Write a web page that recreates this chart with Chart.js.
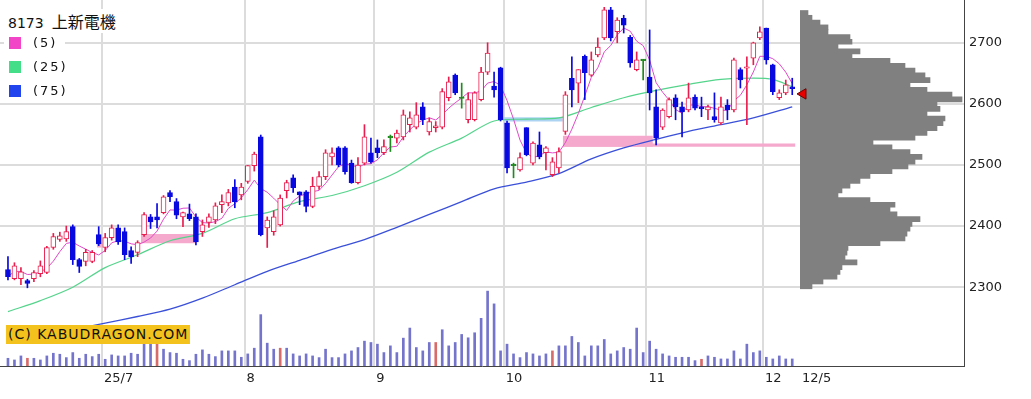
<!DOCTYPE html>
<html>
<head>
<meta charset="utf-8">
<script src="https://cdn.jsdelivr.net/npm/chart.js@4.4.1/dist/chart.umd.min.js"></script>
<style>
    html, body { margin: 0; padding: 0; background: #fff; }
    #wrap { position: relative; width: 1031px; height: 399px; overflow: hidden; background: #fff; }
    #wrap canvas { position: absolute; left: 0; top: 0; }
    .title { position: absolute; left: 8px; top: 9px; color: #111; background: #fff; white-space: nowrap; }
    .title .code { font: 14px "DejaVu Sans", sans-serif; margin-right: 8px; }
    .title .name { font: 16px "Noto Sans CJK JP", sans-serif; }
    .leg { position: absolute; left: 4px; height: 16px; padding-right: 8px; background: #fff;
           font: 13px "DejaVu Sans", sans-serif; letter-spacing: 2px; line-height: 16px; color: #111; }
    .leg i { display: inline-block; width: 12px; height: 12px; margin: 2px 12px 0 5px; vertical-align: top; }
    .logo { position: absolute; left: 6px; top: 325px; width: 184px; height: 19px; background: #f4c21c;
            font: 14px "DejaVu Sans", sans-serif; letter-spacing: 1px; line-height: 19px; color: #111;
            padding-left: 2px; box-sizing: border-box; white-space: nowrap; }
</style>
</head>
<body>
<div id="wrap">
    <canvas id="mainChart" width="1031" height="399"></canvas>
    <canvas id="profileChart" width="1031" height="399"></canvas>
    <div class="title"><span class="code">8173</span><span class="name">上新電機</span></div>
    <div class="leg" style="top:35px"><i style="background:#f244c6"></i>(5)</div>
    <div class="leg" style="top:59px"><i style="background:#44dd88"></i>(25)</div>
    <div class="leg" style="top:83px"><i style="background:#2244ee"></i>(75)</div>
    <div class="logo">(C) KABUDRAGON.COM</div>
</div>
<script>
// daily candles, index 0 = first session shown, 121 = 12/5
const opens = [
    2329, 2314, 2314, 2311, 2314, 2322, 2324, 2365, 2378, 2379,
    2399, 2345, 2342, 2342, 2386, 2365, 2381, 2397, 2391, 2360,
    2357, 2386, 2415, 2415, 2422, 2455, 2440, 2415, 2420, 2415,
    2391, 2406, 2410, 2435, 2438, 2464, 2451, 2473, 2499, 2546,
    2397, 2391, 2402, 2458, 2479, 2456, 2456, 2432, 2465, 2481,
    2513, 2528, 2528, 2503, 2471, 2503, 2520, 2528, 2520, 2546,
    2544, 2546, 2566, 2562, 2595, 2554, 2561, 2562, 2610, 2647,
    2610, 2574, 2574, 2607, 2652, 2629, 2659, 2569, 2500, 2492,
    2561, 2503, 2533, 2520, 2484, 2495, 2555, 2642, 2634, 2678,
    2647, 2680, 2708, 2754, 2718, 2740, 2709, 2656, 2672, 2644,
    2595, 2562, 2579, 2610, 2595, 2590, 2611, 2595, 2590, 2579,
    2569, 2598, 2590, 2656, 2659, 2675, 2708, 2724, 2664, 2610,
    2618, 2628
];
const highs = [
    2350, 2340, 2332, 2313, 2327, 2343, 2367, 2388, 2390, 2400,
    2402, 2347, 2362, 2360, 2399, 2388, 2402, 2402, 2397, 2366,
    2376, 2422, 2419, 2437, 2450, 2458, 2445, 2423, 2436, 2420,
    2410, 2420, 2438, 2451, 2460, 2476, 2470, 2499, 2521, 2549,
    2415, 2425, 2451, 2475, 2484, 2456, 2458, 2480, 2489, 2525,
    2528, 2530, 2530, 2508, 2512, 2566, 2544, 2541, 2541, 2549,
    2557, 2590, 2587, 2602, 2602, 2577, 2571, 2625, 2644, 2649,
    2634, 2618, 2620, 2660, 2700, 2652, 2660, 2572, 2503, 2520,
    2561, 2538, 2554, 2530, 2512, 2528, 2620, 2677, 2656, 2680,
    2685, 2708, 2758, 2758, 2741, 2745, 2712, 2685, 2673, 2721,
    2623, 2592, 2610, 2615, 2603, 2634, 2615, 2611, 2598, 2618,
    2611, 2607, 2675, 2659, 2677, 2701, 2726, 2724, 2665, 2623,
    2639, 2642
];
const lows = [
    2312, 2312, 2304, 2299, 2309, 2317, 2322, 2362, 2375, 2375,
    2337, 2324, 2335, 2340, 2368, 2358, 2377, 2370, 2345, 2339,
    2350, 2383, 2396, 2397, 2420, 2440, 2412, 2399, 2409, 2369,
    2383, 2398, 2404, 2422, 2433, 2430, 2443, 2470, 2490, 2384,
    2365, 2385, 2400, 2446, 2455, 2435, 2423, 2430, 2460, 2476,
    2500, 2497, 2485, 2470, 2469, 2500, 2503, 2512, 2517, 2522,
    2536, 2541, 2554, 2559, 2566, 2549, 2554, 2559, 2605, 2615,
    2593, 2569, 2572, 2605, 2648, 2611, 2572, 2487, 2479, 2490,
    2515, 2500, 2510, 2492, 2481, 2487, 2550, 2595, 2602, 2607,
    2645, 2677, 2705, 2703, 2700, 2716, 2660, 2654, 2639, 2590,
    2533, 2558, 2577, 2574, 2546, 2587, 2590, 2579, 2574, 2570,
    2566, 2574, 2587, 2626, 2566, 2664, 2705, 2665, 2615, 2607,
    2615, 2615
];
const closes = [
    2317, 2335, 2325, 2306, 2324, 2335, 2365, 2383, 2384, 2391,
    2345, 2334, 2357, 2357, 2371, 2381, 2397, 2374, 2353, 2350,
    2373, 2419, 2407, 2410, 2448, 2448, 2418, 2422, 2412, 2374,
    2402, 2415, 2433, 2440, 2455, 2440, 2464, 2499, 2518, 2386,
    2410, 2415, 2446, 2471, 2463, 2451, 2432, 2465, 2481, 2520,
    2520, 2500, 2489, 2471, 2500, 2546, 2505, 2520, 2530, 2546,
    2552, 2582, 2577, 2582, 2574, 2571, 2564, 2620, 2636, 2618,
    2610, 2607, 2618, 2652, 2683, 2623, 2574, 2495, 2500, 2512,
    2517, 2536, 2513, 2528, 2505, 2522, 2615, 2623, 2656, 2651,
    2672, 2693, 2754, 2708, 2737, 2729, 2667, 2672, 2672, 2618,
    2544, 2590, 2607, 2595, 2587, 2610, 2593, 2592, 2595, 2574,
    2595, 2590, 2672, 2639, 2660, 2700, 2718, 2672, 2620, 2618,
    2631, 2625
];
const volumes = [
    23, 18, 30, 23, 23, 18, 30, 38, 35, 25,
    40, 23, 35, 28, 35, 20, 33, 30, 30, 38,
    35, 70, 65, 68, 50, 40, 38, 20, 16, 35,
    48, 35, 28, 45, 45, 45, 26, 36, 53, 153,
    68, 50, 53, 53, 36, 30, 36, 30, 25, 50,
    25, 25, 36, 45, 55, 74, 70, 65, 40, 60,
    40, 83, 113, 55, 45, 70, 70, 108, 60, 70,
    94, 84, 99, 142, 223, 185, 45, 65, 36, 25,
    40, 36, 30, 36, 45, 60, 60, 88, 70, 30,
    60, 60, 79, 36, 45, 55, 50, 113, 40, 74,
    50, 36, 30, 26, 26, 26, 16, 20, 30, 26,
    21, 21, 45, 21, 65, 40, 45, 26, 21, 30,
    21, 21
];
const redVolumeDays = [3, 23, 42, 66, 84, 107];

// moving averages
const ma25Idx = [0, 5, 10, 15, 20, 25, 30, 35, 40, 45, 50, 55, 60, 65, 70, 75, 80, 85, 90, 95, 100, 105, 110, 115, 118, 121];
const ma25Val = [2260, 2278, 2300, 2332, 2353, 2376, 2388, 2412, 2422, 2440, 2450, 2466, 2488, 2521, 2544, 2572, 2575, 2577, 2594, 2610, 2622, 2632, 2640, 2642, 2640, 2628];
const ma75Idx = [0, 5, 10, 15, 20, 25, 30, 35, 40, 45, 50, 55, 60, 65, 70, 75, 80, 85, 90, 95, 100, 105, 110, 115, 121];
const ma75Val = [2210, 2220, 2231, 2241, 2252, 2264, 2282, 2304, 2326, 2344, 2362, 2378, 2398, 2419, 2440, 2461, 2472, 2486, 2510, 2528, 2542, 2555, 2566, 2577, 2595];

// highlighted price zones: [fromIdx, toIdx, low, high]
const zonesPink = [[13.7, 14.5, 2365, 2373], [20.5, 29, 2372, 2387], [85.6, 99.5, 2530, 2548], [85.6, 121.5, 2530, 2535]];
const zonesBlue = [[76.4, 85.6, 2571, 2578]];

// volume by price (right side)
const profPrice = [2760, 2752, 2744, 2736, 2728, 2720, 2712, 2704, 2696, 2688,
    2680, 2672, 2664, 2656, 2648, 2640, 2632, 2624, 2616, 2608,
    2600, 2592, 2584, 2576, 2568, 2560, 2552, 2544, 2536, 2528,
    2520, 2512, 2504, 2496, 2488, 2480, 2472, 2464, 2456, 2448,
    2440, 2432, 2424, 2416, 2408, 2400, 2392, 2384, 2376, 2368,
    2360, 2352, 2344, 2336, 2328, 2320, 2312, 2304];
const profVol = [8, 12, 20, 28, 28, 50, 52, 38, 60, 52,
    90, 105, 115, 125, 130, 110, 127, 152, 162, 137,
    140, 127, 145, 143, 137, 127, 115, 73, 92, 110,
    122, 115, 108, 92, 70, 60, 50, 42, 38, 70,
    95, 90, 97, 120, 112, 110, 107, 105, 80, 48,
    47, 45, 57, 42, 40, 37, 23, 12];

const tickPos = [14.5, 36.5, 56.5, 76.5, 98.5, 116.5, 122.2];
const tickLabels = ['25/7', '8', '9', '10', '11', '12', '12/5'];
const priceTicks = [2300, 2400, 2500, 2600, 2700];

const priceMin = 2171, priceMax = 2770;
const gridColor = '#dcdcdc';
const axisFont = { family: 'DejaVu Sans', size: 13 };

const days = closes.map((c, i) => i);
const candleColor = days.map(i => {
    if (opens[i] === closes[i]) return '#1f8a1f';
    return closes[i] > opens[i] ? '#e81e4e' : '#0808e0';
});
const bodyFill = days.map(i => closes[i] > opens[i] ? '#ffffff' : candleColor[i]);
const bodies = days.map(i => {
    let lo = Math.min(opens[i], closes[i]);
    let hi = Math.max(opens[i], closes[i]);
    if (hi - lo < 2.5) {
        const m = (hi + lo) / 2;
        lo = m - 1.25;
        hi = m + 1.25;
    }
    return { x: i, y: [lo, hi] };
});
const wicks = days.map(i => ({ x: i, y: [lows[i], highs[i]] }));
const ma5 = days.map(i => {
    const s = closes.slice(Math.max(0, i - 4), i + 1);
    return { x: i, y: s.reduce((a, b) => a + b, 0) / s.length };
});

function zoneDataset(z, color) {
    return {
        type: 'line',
        data: [{ x: z[0], y: z[3] }, { x: z[1], y: z[3] }],
        borderWidth: 0,
        pointRadius: 0,
        backgroundColor: color,
        fill: { value: z[2] },
        order: 10
    };
}

// the plot area has to fill the canvas edge to edge, so drop the label overhang padding
function noPadding(s) {
    s.paddingTop = 0;
    s.paddingBottom = 0;
    s.paddingLeft = 0;
    s.paddingRight = 0;
}

new Chart(document.getElementById('mainChart'), {
    type: 'bar',
    data: {
        datasets: [
            ...zonesPink.map(z => zoneDataset(z, '#f5aacd')),
            ...zonesBlue.map(z => zoneDataset(z, '#acd4f2')),
            {
                type: 'bar',
                data: volumes.map((v, i) => ({ x: i, y: v })),
                yAxisID: 'v',
                backgroundColor: days.map(i => redVolumeDays.includes(i) ? '#d86a6a' : '#7474cc'),
                barThickness: 2,
                grouped: false,
                order: 9
            },
            {
                type: 'line',
                data: ma75Idx.map((x, i) => ({ x: x, y: ma75Val[i] })),
                borderColor: '#3a50d8',
                borderWidth: 1.3,
                pointRadius: 0,
                tension: 0.3,
                order: 8
            },
            {
                type: 'line',
                data: ma25Idx.map((x, i) => ({ x: x, y: ma25Val[i] })),
                borderColor: '#55d48c',
                borderWidth: 1.2,
                pointRadius: 0,
                tension: 0.3,
                order: 7
            },
            {
                type: 'line',
                data: ma5,
                borderColor: '#e04ac8',
                borderWidth: 1,
                pointRadius: 0,
                order: 6
            },
            {
                type: 'bar',
                data: wicks,
                backgroundColor: candleColor,
                barThickness: 1,
                grouped: false,
                order: 2
            },
            {
                type: 'bar',
                data: bodies,
                backgroundColor: bodyFill,
                borderColor: candleColor,
                borderWidth: 1,
                borderSkipped: false,
                barThickness: 5,
                grouped: false,
                order: 1
            }
        ]
    },
    options: {
        responsive: false,
        animation: false,
        layout: { padding: 0 },
        plugins: { legend: { display: false }, tooltip: { enabled: false } },
        scales: {
            x: {
                type: 'linear',
                min: -1.23,
                max: 147.5,
                offset: false,
                afterBuildTicks: s => { s.ticks = tickPos.map(v => ({ value: v })); },
                afterFit: s => { s.height = 33; noPadding(s); },
                ticks: {
                    autoSkip: false,
                    maxRotation: 0,
                    align: 'start',
                    labelOffset: 2,
                    padding: 5,
                    color: '#222',
                    font: axisFont,
                    callback: (v, i) => tickLabels[i]
                },
                grid: {
                    offset: false,
                    drawTicks: false,
                    lineWidth: 2,
                    color: ctx => (ctx.tick && ctx.tick.value > 120) ? 'rgba(0,0,0,0)' : gridColor
                },
                border: { display: true, color: '#444', width: 1 }
            },
            y: {
                type: 'linear',
                position: 'right',
                min: priceMin,
                max: priceMax,
                afterBuildTicks: s => { s.ticks = priceTicks.map(v => ({ value: v })); },
                afterFit: s => { s.width = 67; noPadding(s); },
                ticks: { color: '#222', font: axisFont, padding: 5, callback: v => String(v) },
                grid: { drawTicks: false, lineWidth: 2, color: gridColor },
                border: { display: true, color: '#444', width: 1 }
            },
            v: {
                type: 'linear',
                axis: 'y',
                position: 'left',
                display: false,
                min: 0,
                max: 1090
            }
        }
    }
});

new Chart(document.getElementById('profileChart'), {
    type: 'bar',
    data: {
        datasets: [
            {
                indexAxis: 'y',
                data: profPrice.map((p, i) => ({ x: profVol[i], y: p })),
                backgroundColor: '#808080',
                borderWidth: 0,
                barThickness: 5,
                order: 2
            },
            {
                // last close marker, drawn over the profile
                type: 'scatter',
                data: [{ x: 3, y: closes[closes.length - 1] }],
                pointStyle: 'triangle',
                rotation: -90,
                pointRadius: 6,
                backgroundColor: '#e80000',
                borderColor: '#700000',
                borderWidth: 1,
                clip: false,
                order: 1
            }
        ]
    },
    options: {
        indexAxis: 'y',
        responsive: false,
        animation: false,
        layout: { padding: { left: 800, right: 67, top: 0, bottom: 33 } },
        plugins: { legend: { display: false }, tooltip: { enabled: false } },
        scales: {
            x: { type: 'linear', min: 0, max: 164, display: false, offset: false },
            y: { type: 'linear', min: priceMin, max: priceMax, display: false, offset: false, grid: { offset: false } }
        }
    }
});
</script>
</body>
</html>
